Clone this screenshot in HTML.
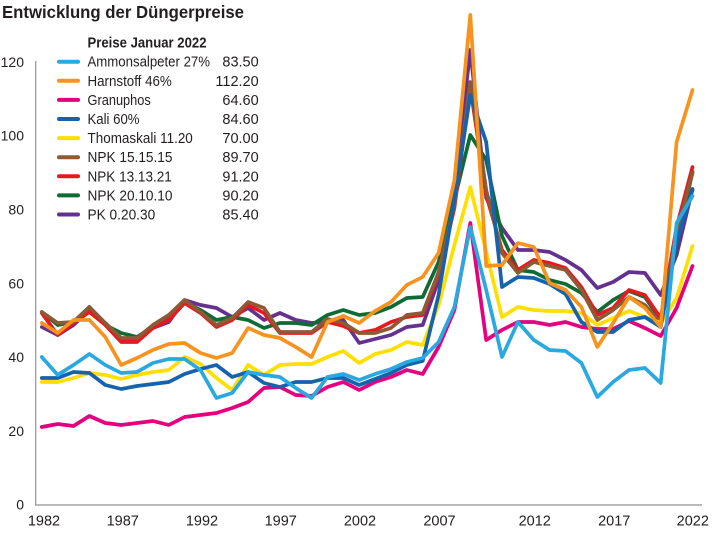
<!DOCTYPE html>
<html>
<head>
<meta charset="utf-8">
<style>
html,body{margin:0;padding:0;background:#fff;}
svg{display:block;}
text{font-family:"Liberation Sans",sans-serif;fill:#231f20;}
</style>
</head>
<body>
<svg width="720" height="541" viewBox="0 0 720 541" xmlns="http://www.w3.org/2000/svg">
<rect x="0" y="0" width="720" height="541" fill="#fff"/>
<!-- title -->
<text x="2" y="17.8" font-size="17.5" font-weight="bold" textLength="242" lengthAdjust="spacingAndGlyphs">Entwicklung der Düngerpreise</text>

<!-- axes -->
<line x1="35.7" y1="61" x2="35.7" y2="505" stroke="#a3a3a3" stroke-width="1.4"/>
<line x1="35" y1="505" x2="702" y2="505" stroke="#a3a3a3" stroke-width="1.4"/>

<!-- y labels -->
<g font-size="14" text-anchor="end">
<text x="24" y="66.9">120</text>
<text x="24" y="140.7">100</text>
<text x="24" y="214.5">80</text>
<text x="24" y="288.3">60</text>
<text x="24" y="362.1">40</text>
<text x="24" y="435.9">20</text>
<text x="24" y="509.7">0</text>
</g>
<!-- x labels -->
<g font-size="14.5" text-anchor="middle">
<text x="44" y="525.7">1982</text>
<text x="122.7" y="525.7">1987</text>
<text x="202" y="525.7">1992</text>
<text x="280.7" y="525.7">1997</text>
<text x="360" y="525.7">2002</text>
<text x="439.5" y="525.7">2007</text>
<text x="534.7" y="525.7">2012</text>
<text x="614.2" y="525.7">2017</text>
<text x="692.8" y="525.7">2022</text>
</g>

<!-- series -->
<g fill="none" stroke-width="3.7" stroke-linejoin="round" stroke-linecap="round">
<polyline stroke="#65318f" points="41.8,327 57.7,335 73.5,325 89.4,310 105.3,323 121.2,340 137,340 152.9,328 168.8,322 184.6,300 200.5,305 216.4,308 232.2,317 248.1,308 264,320 279.9,313 295.7,320 311.6,323 327.5,322 343.3,320 359.2,343 375.1,339 391,335 406.8,327 422.7,325 438.6,280 454.4,190 470.3,50 486.2,198 502,228 517.9,250 533.8,250 549.6,252 565.5,260 581.4,270 597.3,288 613.1,282 629,272 644.9,273 660.7,295 676.6,255 692.5,189"/>
<polyline stroke="#0e6b34" points="41.8,312 57.7,325 73.5,322 89.4,307 105.3,325 121.2,333 137,337 152.9,327 168.8,317 184.6,302 200.5,310 216.4,320 232.2,317 248.1,320 264,328 279.9,323 295.7,323 311.6,325 327.5,315 343.3,310 359.2,315 375.1,313 391,307 406.8,298 422.7,297 438.6,262 454.4,200 470.3,135 486.2,160 502,236 517.9,270 533.8,272 549.6,280 565.5,284 581.4,293 597.3,312 613.1,300 629,291 644.9,297 660.7,320 676.6,245 692.5,172"/>
<polyline stroke="#e8191e" points="41.8,313 57.7,335 73.5,323 89.4,312 105.3,325 121.2,342 137,342 152.9,328 168.8,320 184.6,303 200.5,313 216.4,327 232.2,320 248.1,305 264,313 279.9,333 295.7,333 311.6,333 327.5,322 343.3,326 359.2,333 375.1,330 391,322 406.8,317 422.7,315 438.6,275 454.4,208 470.3,87 486.2,195 502,250 517.9,270 533.8,260 549.6,263 565.5,268 581.4,287 597.3,315 613.1,308 629,290 644.9,295 660.7,318 676.6,227 692.5,167"/>
<polyline stroke="#8c5a35" points="41.8,312 57.7,323 73.5,322 89.4,307 105.3,323 121.2,338 137,338 152.9,325 168.8,315 184.6,300 200.5,312 216.4,325 232.2,318 248.1,302 264,308 279.9,332 295.7,332 311.6,332 327.5,319 343.3,323 359.2,333 375.1,333 391,328 406.8,315 422.7,313 438.6,272 454.4,205 470.3,82 486.2,190 502,253 517.9,273 533.8,262 549.6,266 565.5,270 581.4,290 597.3,320 613.1,310 629,297 644.9,305 660.7,323 676.6,233 692.5,173"/>
<polyline stroke="#ffdf00" points="41.8,382 57.7,382 73.5,378 89.4,373 105.3,375 121.2,379 137,375 152.9,372 168.8,370 184.6,357 200.5,364 216.4,378 232.2,390 248.1,365 264,375 279.9,365 295.7,364 311.6,364 327.5,357 343.3,351 359.2,363 375.1,354 391,350 406.8,342 422.7,345 438.6,305 454.4,245 470.3,187 486.2,252 502,317 517.9,307 533.8,310 549.6,311 565.5,311 581.4,313 597.3,325 613.1,318 629,311 644.9,317 660.7,323 676.6,298 692.5,246"/>
<polyline stroke="#e5007d" points="41.8,427 57.7,424 73.5,426 89.4,416 105.3,423 121.2,425 137,423 152.9,421 168.8,425 184.6,417 200.5,415 216.4,413 232.2,408 248.1,402 264,388 279.9,387 295.7,395 311.6,396 327.5,387 343.3,382 359.2,390 375.1,382 391,377 406.8,370 422.7,374 438.6,347 454.4,310 470.3,223 486.2,340 502,330 517.9,322 533.8,322 549.6,325 565.5,322 581.4,327 597.3,329 613.1,329 629,321 644.9,328 660.7,336 676.6,308 692.5,266"/>
<polyline stroke="#1562ad" points="41.8,378 57.7,378 73.5,372 89.4,373 105.3,385 121.2,389 137,386 152.9,384 168.8,382 184.6,374 200.5,369 216.4,365 232.2,377 248.1,372 264,383 279.9,387 295.7,382 311.6,382 327.5,378 343.3,378 359.2,385 375.1,379 391,373 406.8,365 422.7,361 438.6,295 454.4,200 470.3,95 486.2,142 502,287 517.9,277 533.8,278 549.6,284 565.5,294 581.4,322 597.3,332 613.1,332 629,320 644.9,317 660.7,327 676.6,242 692.5,190"/>
<polyline stroke="#29a9e0" points="41.8,357 57.7,375 73.5,365 89.4,354 105.3,365 121.2,373 137,372 152.9,363 168.8,359 184.6,359 200.5,370 216.4,398 232.2,393 248.1,372 264,375 279.9,377 295.7,388 311.6,398 327.5,377 343.3,374 359.2,380 375.1,374 391,369 406.8,362 422.7,358 438.6,342 454.4,307 470.3,227 486.2,290 502,357 517.9,322 533.8,340 549.6,350 565.5,351 581.4,363 597.3,397 613.1,382 629,370 644.9,368 660.7,383 676.6,223 692.5,196"/>
<polyline stroke="#f7931e" points="41.8,323 57.7,333 73.5,320 89.4,320 105.3,337 121.2,365 137,358 152.9,350 168.8,344 184.6,343 200.5,353 216.4,358 232.2,353 248.1,328 264,335 279.9,338 295.7,347 311.6,357 327.5,322 343.3,316 359.2,323 375.1,311 391,302 406.8,285 422.7,277 438.6,253 454.4,180 470.3,15 486.2,266 502,265 517.9,243 533.8,247 549.6,283 565.5,290 581.4,307 597.3,347 613.1,323 629,297 644.9,308 660.7,327 676.6,142 692.5,90"/>
</g>

<!-- legend -->
<rect x="50" y="28" width="215" height="196" fill="#fff"/>
<text x="87.5" y="47.3" font-size="14.5" font-weight="bold" textLength="119" lengthAdjust="spacingAndGlyphs">Preise Januar 2022</text>
<g stroke-width="4" stroke-linecap="round">
<line x1="59" y1="61.7" x2="78" y2="61.7" stroke="#29a9e0"/>
<line x1="59" y1="80.8" x2="78" y2="80.8" stroke="#f7931e"/>
<line x1="59" y1="99.9" x2="78" y2="99.9" stroke="#e5007d"/>
<line x1="59" y1="119" x2="78" y2="119" stroke="#1562ad"/>
<line x1="59" y1="138.1" x2="78" y2="138.1" stroke="#ffdf00"/>
<line x1="59" y1="157.2" x2="78" y2="157.2" stroke="#8c5a35"/>
<line x1="59" y1="176.3" x2="78" y2="176.3" stroke="#e8191e"/>
<line x1="59" y1="195.4" x2="78" y2="195.4" stroke="#0e6b34"/>
<line x1="59" y1="214.5" x2="78" y2="214.5" stroke="#65318f"/>
</g>
<g font-size="14.5">
<text x="87.5" y="66.7" textLength="122.5" lengthAdjust="spacingAndGlyphs">Ammonsalpeter 27%</text>
<text x="87.5" y="85.8" textLength="84.3" lengthAdjust="spacingAndGlyphs">Harnstoff 46%</text>
<text x="87.5" y="104.9" textLength="63.3" lengthAdjust="spacingAndGlyphs">Granuphos</text>
<text x="87.5" y="124" textLength="52" lengthAdjust="spacingAndGlyphs">Kali 60%</text>
<text x="87.5" y="143.1" textLength="105.3" lengthAdjust="spacingAndGlyphs">Thomaskali 11.20</text>
<text x="87.5" y="162.2" textLength="85" lengthAdjust="spacingAndGlyphs">NPK 15.15.15</text>
<text x="87.5" y="181.3" textLength="84.3" lengthAdjust="spacingAndGlyphs">NPK 13.13.21</text>
<text x="87.5" y="200.4" textLength="85" lengthAdjust="spacingAndGlyphs">NPK 20.10.10</text>
<text x="87.5" y="219.5" textLength="67.7" lengthAdjust="spacingAndGlyphs">PK 0.20.30</text>
</g>
<g font-size="14.5" text-anchor="end">
<text x="258.7" y="66.7">83.50</text>
<text x="258.7" y="85.8">112.20</text>
<text x="258.7" y="104.9">64.60</text>
<text x="258.7" y="124">84.60</text>
<text x="258.7" y="143.1">70.00</text>
<text x="258.7" y="162.2">89.70</text>
<text x="258.7" y="181.3">91.20</text>
<text x="258.7" y="200.4">90.20</text>
<text x="258.7" y="219.5">85.40</text>
</g>
</svg>
</body>
</html>
